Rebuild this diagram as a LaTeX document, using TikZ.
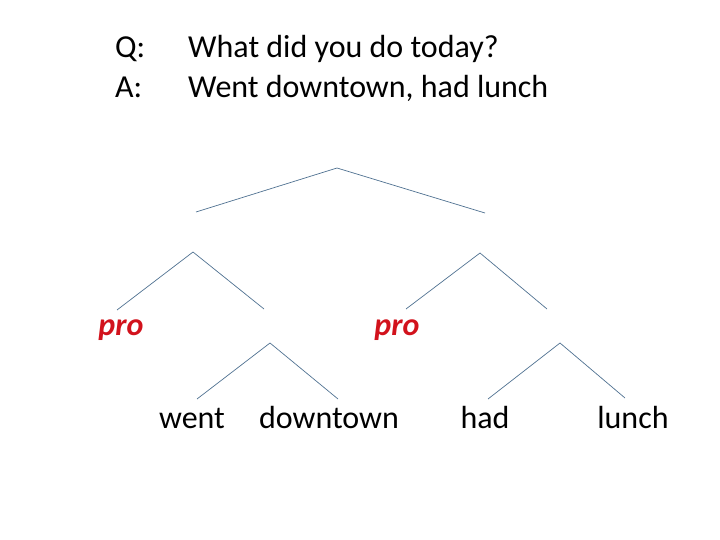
\documentclass[tikz,border=0pt]{standalone}
\usepackage{fontspec}
\usepackage{tikz}
\usepackage{xcolor}
\setmainfont{Carlito}
\definecolor{branch}{HTML}{4F7191}
\definecolor{prored}{HTML}{D2121C}

\begin{document}
\begin{tikzpicture}[x=1pt,y=-1pt]
  \tikzstyle{word}=[anchor=base,inner sep=0,font=\fontsize{32}{38}\selectfont]
  \tikzstyle{pron}=[word,text=prored,font=\fontsize{32}{38}\selectfont\bfseries\itshape]
  \tikzstyle{edge}=[draw=branch,line width=0.7pt]
  \useasboundingbox (0,0) rectangle (720,540);
  % question and answer
  \node(q)[word,anchor=base west] at (115,58) {Q:};
  \node(qt)[word,anchor=base west] at (188,58) {What did you do today?};
  \node(a)[word,anchor=base west] at (115,98) {A:};
  \node(at)[word,anchor=base west] at (188,98) {Went downtown, had lunch};
  % top branch
  \coordinate (s) at (337,168);
  \coordinate (sl) at (196,212);
  \coordinate (sr) at (485,213);
  % left and right clauses
  \coordinate (v1) at (193,252);
  \coordinate (v1l) at (117,310);
  \coordinate (v1r) at (264,309);
  \coordinate (v2) at (480,253);
  \coordinate (v2l) at (406,309);
  \coordinate (v2r) at (547,309);
  % verb phrases
  \coordinate (p1) at (270,343);
  \coordinate (p1l) at (197,399);
  \coordinate (p1r) at (338,399);
  \coordinate (p2) at (560,343);
  \coordinate (p2l) at (488,399);
  \coordinate (p2r) at (625,398);
  \draw[edge] (sl) -- (s) -- (sr);
  \draw[edge] (v1l) -- (v1) -- (v1r);
  \draw[edge] (v2l) -- (v2) -- (v2r);
  \draw[edge] (p1l) -- (p1) -- (p1r);
  \draw[edge] (p2l) -- (p2) -- (p2r);
  % leaves
  \node(pro1)[pron] at (121,335) {pro};
  \node(pro2)[pron] at (397,335) {pro};
  \node(went)[word] at (192,428) {went};
  \node(down)[word] at (329,428) {downtown};
  \node(had)[word] at (485,428) {had};
  \node(lunch)[word] at (633,428) {lunch};
\end{tikzpicture}
\end{document}
